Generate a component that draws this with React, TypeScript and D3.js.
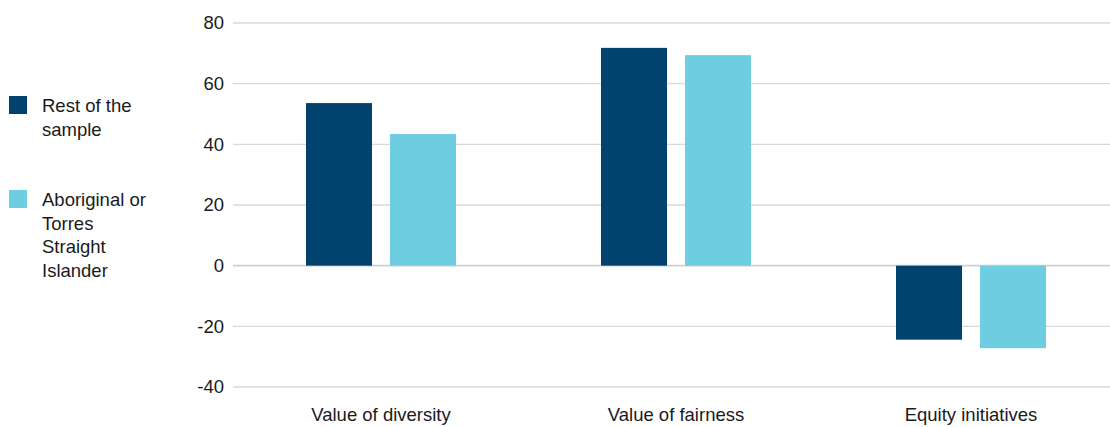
import React from "react";
import * as d3 from "d3";

const categories = ["Value of diversity", "Value of fairness", "Equity initiatives"];
const seriesNames = ["Rest of the sample", "Aboriginal or Torres Straight Islander"];
const restOfSample = [53.6, 71.8, -24.4];
const aboriginalTSI = [43.4, 69.4, -27.2];
const yTicks = [-40, -20, 0, 20, 40, 60, 80];
const legendLines = [["Rest of the", "sample"], ["Aboriginal or", "Torres", "Straight", "Islander"]];

const COLORS = ["#02426f", "#6ecde0"];
const W = 1110;
const H = 427;

export default function App() {
  const x = d3.scaleBand<string>().domain(categories).range([233.5, 1118.5]).paddingInner(0).paddingOuter(0);
  const y = d3.scaleLinear().domain([-40, 80]).range([387, 23]);
  const barW = 66;
  const gap = 18;
  const groupW = barW * 2 + gap;
  const series = [restOfSample, aboriginalTSI];
  const font = "'Liberation Sans', Arial, sans-serif";
  const fs = 18.5;

  return (
    <div style={{ position: "absolute", left: 0, top: 0 }}>
      <svg width={W} height={H} style={{ display: "block", fontFamily: font }}>
        <rect width={W} height={H} fill="#ffffff" />
        {yTicks.map((t) => (
          <g key={t}>
            <line
              x1={233}
              x2={W}
              y1={y(t)}
              y2={y(t)}
              stroke={t === 0 ? "#cfcfcf" : "#d9d9d9"}
              strokeWidth={t === 0 ? 1.6 : 1.3}
            />
            <text x={224} y={y(t) + 6.4} textAnchor="end" fontSize={fs} fill="#1a1a1a">
              {t}
            </text>
          </g>
        ))}
        {categories.map((c, i) => {
          const start = (x(c) as number) + (x.bandwidth() - groupW) / 2;
          return (
            <g key={c}>
              {series.map((s, k) => {
                const v = s[i];
                const y0 = y(Math.max(0, v));
                const y1 = y(Math.min(0, v));
                return (
                  <rect
                    key={k}
                    x={start + k * (barW + gap)}
                    y={y0}
                    width={barW}
                    height={y1 - y0}
                    fill={COLORS[k]}
                  />
                );
              })}
              <text
                x={(x(c) as number) + x.bandwidth() / 2}
                y={420.5}
                textAnchor="middle"
                fontSize={fs}
                fill="#1a1a1a"
              >
                {c}
              </text>
            </g>
          );
        })}
        {seriesNames.map((name, k) => {
          const top = k === 0 ? 96 : 190;
          return (
            <g key={name}>
              <rect x={9} y={top} width={18} height={18} fill={COLORS[k]} />
              <text x={42} y={top + 16.3} fontSize={fs} fill="#1a1a1a">
                {legendLines[k].map((ln, j) => (
                  <tspan key={j} x={42} dy={j === 0 ? 0 : 23.5}>
                    {ln}
                  </tspan>
                ))}
              </text>
            </g>
          );
        })}
      </svg>
    </div>
  );
}
